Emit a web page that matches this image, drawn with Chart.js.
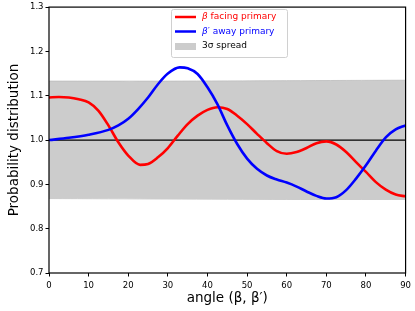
<!DOCTYPE html>
<html>
<head>
<meta charset="utf-8">
<script src="https://cdn.jsdelivr.net/npm/chart.js@4/dist/chart.umd.min.js"></script>
<style>
  html, body { margin: 0; padding: 0; background: #fff; }
  #wrap { width: 415px; height: 311px; }
</style>
</head>
<body>
<div id="wrap"><canvas id="chartCanvas" width="415" height="311"></canvas></div>
<script>
// angles (degrees)
const angles = [0, 2.5, 5, 7.5, 10, 12.5, 15, 17.5, 20, 23, 25, 27.5, 30, 32.5, 35, 37.5, 40, 42.5, 45, 47.5,
  50, 52.5, 55, 57.5, 60, 62.5, 65, 67.5, 70, 72.5, 75, 77.5, 80, 82.5, 85, 87.5, 90];

const facing = [1.096, 1.097, 1.096, 1.092, 1.085, 1.066, 1.033, 0.995, 0.965, 0.944, 0.946, 0.961, 0.982, 1.010,
  1.036, 1.055, 1.068, 1.074, 1.070, 1.055, 1.036, 1.014, 0.993, 0.975, 0.969, 0.973, 0.982, 0.993, 0.997,
  0.990, 0.973, 0.950, 0.928, 0.905, 0.888, 0.877, 0.873];

const awayAngles = [0, 5, 10, 15, 17.5, 20, 22.5, 25, 27.5, 30, 33, 35, 37.5, 40, 42.5, 45, 47.5, 50, 52.5, 55,
  57.5, 60, 62.5, 65, 67.5, 70, 72.5, 75, 77.5, 80, 82.5, 85, 87.5, 90];
const away = [1.000, 1.005, 1.012, 1.023, 1.033, 1.048, 1.070, 1.096, 1.126, 1.150, 1.164, 1.162, 1.149, 1.119,
  1.081, 1.033, 0.991, 0.958, 0.935, 0.920, 0.911, 0.904, 0.895, 0.884, 0.874, 0.868, 0.871, 0.887, 0.913,
  0.943, 0.976, 1.006, 1.024, 1.033];

const bandAngles = [0, 30, 60, 90];
const bandTop = [1.133, 1.133, 1.134, 1.135];
const bandBottom = [0.868, 0.867, 0.866, 0.866];

const meanLine = [1.0, 1.0];
const xTicks = [0, 10, 20, 30, 40, 50, 60, 70, 80, 90];

function pts(xs, ys) {
  return xs.map(function (x, i) { return { x: x, y: ys[i] }; });
}

// frame round the plot area
const framePlugin = {
  id: "frame",
  afterDatasetsDraw: function (chart) {
    const a = chart.chartArea;
    const ctx = chart.ctx;
    ctx.save();
    ctx.strokeStyle = "#000";
    ctx.lineWidth = 1.2;
    ctx.strokeRect(a.left, a.top, a.right - a.left, a.bottom - a.top);
    ctx.restore();
  }
};

// legend box inside the plot, top centre
const legendPlugin = {
  id: "boxLegend",
  afterDraw: function (chart) {
    const ctx = chart.ctx;
    const x = 171, y = 9, w = 116, h = 48;
    ctx.save();
    ctx.fillStyle = "rgba(255,255,255,0.8)";
    ctx.strokeStyle = "#d0d0d0";
    ctx.lineWidth = 1;
    ctx.beginPath();
    ctx.roundRect(x + 0.5, y + 0.5, w, h, 2);
    ctx.fill();
    ctx.stroke();

    const items = [
      { sym: "\u03B2", rest: " facing primary", color: "#ff0000", kind: "line" },
      { sym: "\u03B2\u2032", rest: " away primary", color: "#0000ff", kind: "line" },
      { sym: "", rest: "3\u03C3 spread", color: "#000", kind: "rect" }
    ];
    ctx.textBaseline = "middle";
    items.forEach(function (it, i) {
      const cy = y + 8 + i * 14.5;
      if (it.kind === "line") {
        ctx.strokeStyle = it.color;
        ctx.lineWidth = 2.5;
        ctx.beginPath();
        ctx.moveTo(x + 4, cy);
        ctx.lineTo(x + 25, cy);
        ctx.stroke();
      } else {
        ctx.fillStyle = "#cccccc";
        ctx.fillRect(x + 4, cy - 3, 21, 7);
      }
      ctx.fillStyle = it.color;
      let tx = x + 31;
      if (it.sym) {
        ctx.font = "italic 9px 'DejaVu Sans'";
        ctx.fillText(it.sym, tx, cy);
        tx += ctx.measureText(it.sym).width;
      }
      ctx.font = "9px 'DejaVu Sans'";
      ctx.fillText(it.rest, tx, cy);
    });
    ctx.restore();
  }
};

const ctx = document.getElementById("chartCanvas").getContext("2d");

const chart = new Chart(ctx, {
  type: "line",
  data: {
    datasets: [
      {
        label: "\u03B2\u2032 away primary",
        data: pts(awayAngles, away),
        borderColor: "#0000ff",
        borderWidth: 2.6,
        pointRadius: 0,
        cubicInterpolationMode: "monotone",
        fill: false,
        order: 1
      },
      {
        label: "\u03B2 facing primary",
        data: pts(angles, facing),
        borderColor: "#ff0000",
        borderWidth: 2.6,
        pointRadius: 0,
        cubicInterpolationMode: "monotone",
        fill: false,
        order: 2
      },
      {
        label: "mean",
        data: pts([0, 90], meanLine),
        borderColor: "#000",
        borderWidth: 1.3,
        pointRadius: 0,
        fill: false,
        order: 3
      },
      {
        label: "3\u03C3 spread",
        data: pts(bandAngles, bandTop),
        borderColor: "#bdbdbd",
        borderWidth: 0.8,
        backgroundColor: "#cccccc",
        pointRadius: 0,
        tension: 0.3,
        fill: "+1",
        order: 10
      },
      {
        label: "band bottom",
        data: pts(bandAngles, bandBottom),
        borderColor: "#bdbdbd",
        borderWidth: 0.8,
        pointRadius: 0,
        tension: 0.3,
        fill: false,
        order: 11
      }
    ]
  },
  options: {
    responsive: false,
    animation: false,
    layout: { padding: { top: 6, right: 9, left: 0, bottom: 0 } },
    plugins: {
      legend: { display: false },
      tooltip: { enabled: false }
    },
    scales: {
      x: {
        type: "linear",
        min: 0,
        max: 90,
        afterBuildTicks: function (axis) {
          axis.ticks = xTicks.map(function (v) { return { value: v }; });
        },
        afterFit: function (axis) { axis.height = 38; },
        grid: { display: true, drawOnChartArea: false, drawTicks: true, tickLength: 3.5, color: "#000" },
        border: { display: false },
        ticks: { color: "#000", font: { family: "DejaVu Sans", size: 8.5 }, padding: 4, maxRotation: 0 },
        title: {
          display: true,
          text: "angle (\u03B2, \u03B2\u2032)",
          color: "#000",
          font: { family: "DejaVu Sans", size: 13.5 },
          padding: { top: 1, bottom: 4 }
        }
      },
      y: {
        min: 0.7,
        max: 1.3,
        afterFit: function (axis) { axis.width = 49; },
        grid: { display: true, drawOnChartArea: false, drawTicks: true, tickLength: 3.5, color: "#000" },
        border: { display: false },
        ticks: {
          stepSize: 0.1,
          color: "#000",
          font: { family: "DejaVu Sans", size: 8.5 },
          padding: 2,
          callback: function (v) { return v.toFixed(1); }
        },
        title: {
          display: true,
          text: "Probability distribution",
          color: "#000",
          font: { family: "DejaVu Sans", size: 13.5 },
          padding: { top: 6, bottom: 3 }
        }
      }
    }
  },
  plugins: [framePlugin, legendPlugin]
});
</script>
</body>
</html>
